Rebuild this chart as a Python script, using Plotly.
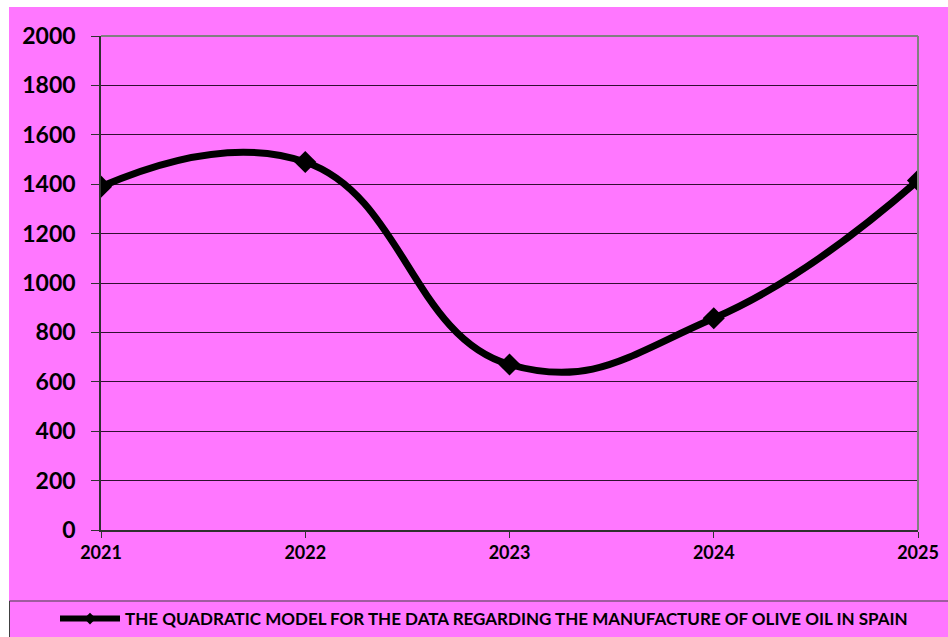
import plotly.graph_objects as go

years = [2021, 2022, 2023, 2024, 2025]
values = [1390, 1490, 670, 857, 1415]
series_name = "THE QUADRATIC MODEL FOR THE DATA REGARDING THE MANUFACTURE OF OLIVE OIL IN SPAIN"
y_ticks = [0, 200, 400, 600, 800, 1000, 1200, 1400, 1600, 1800, 2000]

W, H = 948, 637
L, R, T, B = 101, 30, 36, 107
pw, ph = W - L - R, H - T - B

def px(x):
    return (x - L) / pw

def py(y):
    return (H - B - y) / ph

PINK = "#FF77FF"

fig = go.Figure()
fig.add_trace(go.Scatter(
    x=years, y=values, name=series_name, mode="lines+markers", showlegend=False,
    line=dict(color="black", width=7, shape="spline", smoothing=1.3),
    marker=dict(symbol="diamond", size=17, color="black"),
))
# legend entry (same series, legend styling)
fig.add_trace(go.Scatter(
    x=[None], y=[None], name=series_name, mode="lines+markers", showlegend=True,
    line=dict(color="black", width=6),
    marker=dict(symbol="diamond", size=9, color="black"),
))

shapes = [
    dict(type="rect", xref="paper", yref="paper", x0=px(-5), x1=px(W + 5), y0=py(7), y1=py(-5),
         fillcolor="white", line=dict(width=0), layer="below"),
    dict(type="rect", xref="paper", yref="paper", x0=px(-5), x1=px(9), y0=py(H + 5), y1=py(-5),
         fillcolor="white", line=dict(width=0), layer="below"),
    dict(type="line", xref="paper", yref="paper", x0=0, x1=1, y0=1, y1=1,
         line=dict(color="#808080", width=2)),
    dict(type="line", xref="paper", yref="paper", x0=1, x1=1, y0=0, y1=1,
         line=dict(color="#808080", width=2)),
    dict(type="rect", xref="paper", yref="paper", x0=px(9.5), x1=px(W + 5), y0=py(H + 5), y1=py(601),
         fillcolor="rgba(0,0,0,0)", line=dict(color="#404040", width=1)),
]

fig.update_layout(
    width=W, height=H,
    margin=dict(l=L, r=R, t=T, b=B, pad=0, autoexpand=False),
    paper_bgcolor=PINK, plot_bgcolor=PINK,
    shapes=shapes,
    showlegend=True,
    legend=dict(orientation="h", x=px(484), xanchor="center", y=py(619), yanchor="middle",
                bgcolor="rgba(0,0,0,0)", borderwidth=0, itemwidth=60,
                font=dict(family="Lato", size=17, color="black", weight="bold")),
    xaxis=dict(range=[2021, 2025], tickvals=years, ticktext=[str(y) for y in years],
               showgrid=False, zeroline=False, showline=True, linecolor="#303030", linewidth=1.5,
               ticks="outside", ticklen=6, tickcolor="#303030",
               ticklabelstandoff=0,
               tickfont=dict(family="Lato", size=18, color="black", weight="bold")),
    yaxis=dict(range=[0, 2000], tickvals=y_ticks,
               showgrid=True, gridcolor="#301030", gridwidth=1, zeroline=False,
               showline=True, linecolor="#303030", linewidth=1.5,
               ticks="outside", ticklen=8, tickcolor="#303030",
               ticklabelstandoff=11,
               tickfont=dict(family="Lato", size=23, color="black", weight="bold")),
)

fig.write_html("out.html")
